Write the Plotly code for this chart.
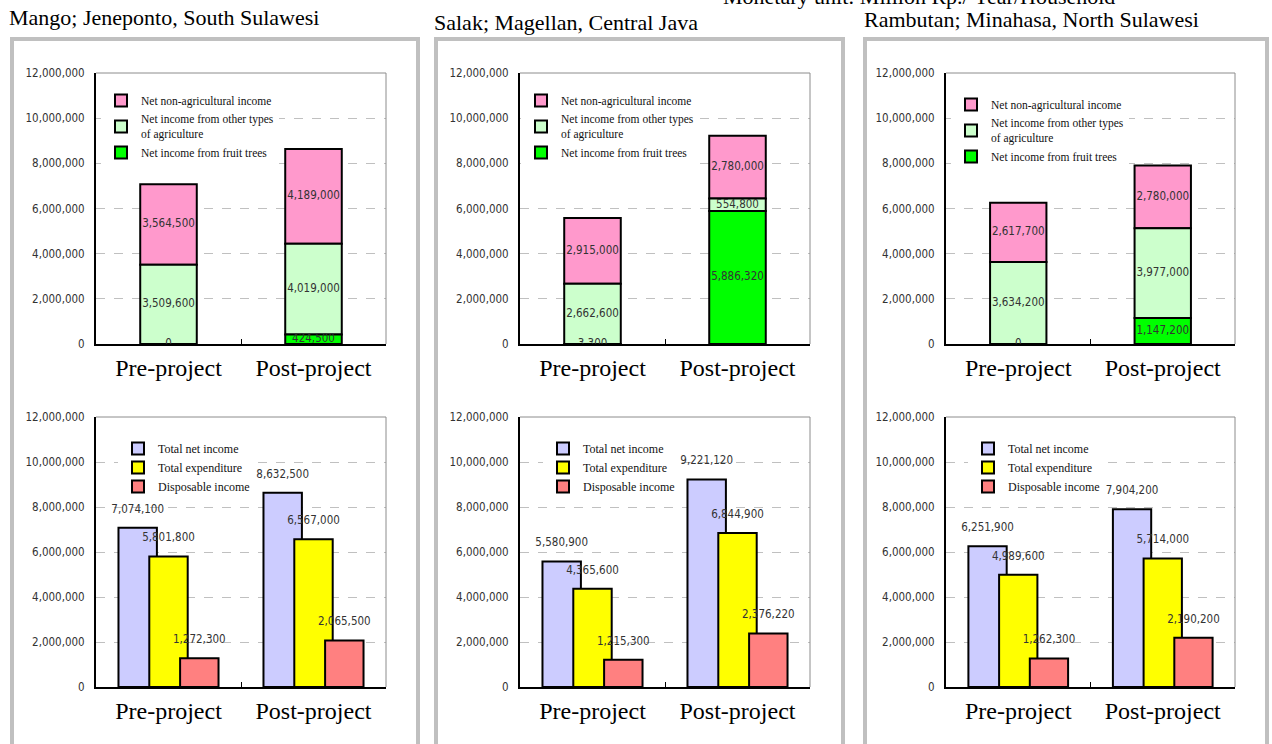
import plotly.graph_objects as go

# ---------------- data ----------------
categories = ["Pre-project", "Post-project"]
panel_titles = ["Mango; Jeneponto, South Sulawesi",
                "Salak; Magellan, Central Java",
                "Rambutan; Minahasa, North Sulawesi"]
unit_note = "Monetary unit: Million Rp./ Year/Household"

income_names = ["Net non-agricultural income",
                "Net income from other types<br>of agriculture",
                "Net income from fruit trees"]
income_colors = ["#FF99CC", "#CCFFCC", "#00FF00"]

mango_fruit = [0, 424500]
mango_other = [3509600, 4019000]
mango_nonagri = [3564500, 4189000]

salak_fruit = [3300, 5886320]
salak_other = [2662600, 554800]
salak_nonagri = [2915000, 2780000]

rambutan_fruit = [0, 1147200]
rambutan_other = [3634200, 3977000]
rambutan_nonagri = [2617700, 2780000]

balance_names = ["Total net income", "Total expenditure", "Disposable income"]
balance_colors = ["#CCCCFF", "#FFFF00", "#FF8080"]

mango_total = [7074100, 8632500]
mango_expend = [5801800, 6567000]
mango_disp = [1272300, 2065500]

salak_total = [5580900, 9221120]
salak_expend = [4365600, 6844900]
salak_disp = [1215300, 2376220]

rambutan_total = [6251900, 7904200]
rambutan_expend = [4989600, 5714000]
rambutan_disp = [1262300, 2190200]

y_tick_values = [0, 2000000, 4000000, 6000000, 8000000, 10000000, 12000000]
y_tick_labels = ["0", "2,000,000", "4,000,000", "6,000,000", "8,000,000", "10,000,000", "12,000,000"]

# ---------------- layout geometry (pixels) ----------------
W, H = 1272, 744
SERIF = "Liberation Serif, Times New Roman, serif"
NARROW = "Liberation Sans Narrow, Arial Narrow, DejaVu Sans Condensed, Liberation Sans, sans-serif"

def px_x(p):
    return p / W

def px_y(p):
    return 1 - p / H

col_x = [(96, 386), (520, 810), (946, 1235)]
row_y = [(73, 344), (417, 687)]
top_legend_pos = [(101, 86), (521, 86), (951, 90)]
bot_legend_pos = [(118, 434), (543, 434), (968, 434)]
panel_boxes = [(12, 418), (436, 843), (865, 1267)]
title_pos = [(7, 18), (432, 23), (862, 20)]

income_sets = [
    (mango_nonagri, mango_other, mango_fruit),
    (salak_nonagri, salak_other, salak_fruit),
    (rambutan_nonagri, rambutan_other, rambutan_fruit),
]
balance_sets = [
    (mango_total, mango_expend, mango_disp),
    (salak_total, salak_expend, salak_disp),
    (rambutan_total, rambutan_expend, rambutan_disp),
]

fig = go.Figure()
xpos = list(range(len(categories)))

def fmt(v):
    return f"{v:,}"

layout = dict(
    width=W, height=H, margin=dict(l=0, r=0, t=0, b=0),
    paper_bgcolor="white", plot_bgcolor="white",
    barmode="overlay", showlegend=True,
    font=dict(family=SERIF, color="black"),
)

shapes = []
annotations = []

BAR_W = 0.39
GB_W = 0.265
GB_OFF = [-0.345, -0.1325, 0.08]

for r in range(2):
    for c in range(3):
        idx = r * 3 + c + 1
        sfx = "" if idx == 1 else str(idx)
        xa, ya = "x" + sfx, "y" + sfx
        leg = "legend" + sfx
        if r == 0:
            nonagri, other, fruit = income_sets[c]
            series = [nonagri, other, fruit]
            bases = [
                [fruit[i] + other[i] for i in xpos],
                [fruit[i] for i in xpos],
                [0 for i in xpos],
            ]
            for s, base, name, col in zip(series, bases, income_names, income_colors):
                fig.add_trace(go.Bar(
                    x=xpos, y=s, base=base, width=BAR_W, name=name,
                    marker=dict(color=col, line=dict(color="black", width=2)),
                    xaxis=xa, yaxis=ya, legend=leg, hoverinfo="skip"))
            tx, ty, tt = [], [], []
            for s, base in zip(series, bases):
                for i in xpos:
                    tx.append(i)
                    ty.append(base[i] + s[i] / 2)
                    tt.append(fmt(s[i]))
            fig.add_trace(go.Scatter(
                x=tx, y=ty, text=tt, mode="text", textposition="middle center",
                textfont=dict(family=NARROW, size=11.5, color="#333333"),
                xaxis=xa, yaxis=ya, showlegend=False, hoverinfo="skip"))
        else:
            series = balance_sets[c]
            tx, ty, tt = [], [], []
            for s, name, col, off in zip(series, balance_names, balance_colors, GB_OFF):
                fig.add_trace(go.Bar(
                    x=xpos, y=s, offset=off, width=GB_W, name=name,
                    marker=dict(color=col, line=dict(color="black", width=2)),
                    xaxis=xa, yaxis=ya, legend=leg, hoverinfo="skip"))
                for i in xpos:
                    tx.append(i + off + GB_W / 2)
                    ty.append(s[i])
                    tt.append(fmt(s[i]))
            fig.add_trace(go.Scatter(
                x=tx, y=ty, text=tt, mode="markers+text", textposition="top center",
                marker=dict(size=18, opacity=0),
                textfont=dict(family=NARROW, size=11.5, color="#333333"),
                xaxis=xa, yaxis=ya, showlegend=False, hoverinfo="skip"))

        x0, x1 = col_x[c]
        y0, y1 = row_y[r]
        layout["xaxis" + sfx] = dict(
            domain=[px_x(x0), px_x(x1)], anchor=ya, range=[-0.5, 1.5],
            tickmode="array", tickvals=xpos, ticktext=categories, ticks="",
            tickfont=dict(family=SERIF, size=24, color="black"),
            ticklabelstandoff=1,
            showline=True, linecolor="black", linewidth=2,
            showgrid=False, zeroline=False, automargin=False, fixedrange=True,
            minor=dict(tickmode="array", tickvals=[0.5], ticks="inside",
                       ticklen=5, tickwidth=1, tickcolor="black", showgrid=False),
        )
        layout["yaxis" + sfx] = dict(
            domain=[px_y(y1), px_y(y0)], anchor=xa, range=[0, 12000000],
            tickmode="array", tickvals=y_tick_values, ticktext=y_tick_labels,
            ticks="", ticklabelstandoff=7,
            tickfont=dict(family=NARROW, size=11.5, color="#333333"),
            showline=True, linecolor="black", linewidth=2,
            showgrid=True, gridcolor="#C0C0C0", gridwidth=1, griddash="dash",
            zeroline=False, automargin=False, fixedrange=True,
        )
        shapes.append(dict(type="line", xref=xa + " domain", yref=ya + " domain",
                           x0=0, x1=1, y0=1, y1=1, line=dict(color="#8C8C8C", width=1)))
        shapes.append(dict(type="line", xref=xa + " domain", yref=ya + " domain",
                           x0=1, x1=1, y0=0, y1=1, line=dict(color="#8C8C8C", width=1)))

        lpx, lpy = (top_legend_pos if r == 0 else bot_legend_pos)[c]
        layout[leg] = dict(
            x=px_x(lpx), y=px_y(lpy), xanchor="left", yanchor="top",
            bgcolor="white", borderwidth=0, tracegroupgap=0,
            font=dict(family=SERIF, size=12 if r == 1 else 11.5, color="#111111"),
            itemclick=False, itemdoubleclick=False,
        )

for (bx0, bx1) in panel_boxes:
    shapes.append(dict(type="rect", xref="paper", yref="paper",
                       x0=px_x(bx0), x1=px_x(bx1), y0=px_y(39), y1=-0.05,
                       line=dict(color="#C0C0C0", width=4), layer="below"))

for t, (tx, ty) in zip(panel_titles, title_pos):
    annotations.append(dict(text=t, xref="paper", yref="paper", x=px_x(tx), y=px_y(ty),
                            xanchor="left", yanchor="middle", showarrow=False,
                            font=dict(family=SERIF, size=22, color="black")))
annotations.append(dict(text=unit_note, xref="paper", yref="paper", x=px_x(919), y=px_y(-3),
                        xanchor="center", yanchor="middle", showarrow=False,
                        font=dict(family=SERIF, size=22, color="black")))

layout["shapes"] = shapes
layout["annotations"] = annotations
fig.update_layout(**layout)
fig.write_html("out.html")
